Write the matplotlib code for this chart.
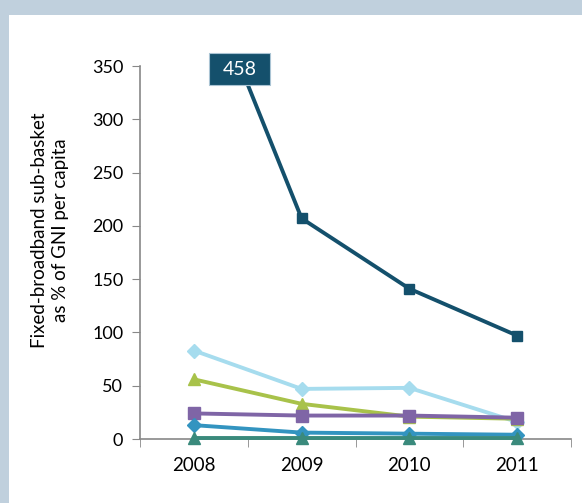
import matplotlib
matplotlib.use("Agg")
import matplotlib.pyplot as plt
from matplotlib.patches import Rectangle

years = ["2008", "2009", "2010", "2011"]
dark_series = [458, 207, 141, 97]
light_blue = [83, 47, 48, 16]
yellow_green = [56, 33, 21, 19]
purple = [24, 22, 22, 20]
blue = [13, 6, 5, 4]
teal = [1, 1, 1, 1]
yticks = [0, 50, 100, 150, 200, 250, 300, 350]

plt.rcParams['font.family'] = ['Lato', 'DejaVu Sans']

fig = plt.figure(figsize=(5.82, 5.03), dpi=100)
fig.patch.set_facecolor("white")
frame_col = "#c0d0dd"
fig.patches.append(Rectangle((0, 1 - 15/503), 1, 15/503, transform=fig.transFigure,
                             facecolor=frame_col, edgecolor="none", zorder=0))
fig.patches.append(Rectangle((0, 0), 9/582, 1, transform=fig.transFigure,
                             facecolor=frame_col, edgecolor="none", zorder=0))

ax = fig.add_axes([140/582, 1 - 439/503, (571 - 140)/582, (439 - 66)/503])
x = list(range(len(years)))

lw = 2.8
ax.plot(x, light_blue, color="#a6dcee", lw=lw, marker="D", ms=7, zorder=3)
ax.plot(x, yellow_green, color="#a8c24a", lw=lw, marker="^", ms=8, zorder=3)
ax.plot(x, purple, color="#7f65a6", lw=lw, marker="s", ms=8, zorder=4)
ax.plot(x, blue, color="#3394c0", lw=lw, marker="D", ms=7, zorder=4, clip_on=False)
ax.plot(x, teal, color="#3a8a7c", lw=lw, marker="^", ms=8, zorder=5, clip_on=False)
ax.plot(x, dark_series, color="#14506c", lw=lw, marker="s", ms=7, zorder=6)

ax.set_xlim(-0.5, 3.5)
ax.set_ylim(0, 350)
ax.set_yticks(yticks)
ax.set_yticklabels([str(v) for v in yticks], fontsize=13)
ax.set_xticks(x)
ax.set_xticklabels(years, fontsize=13.5)
ax.set_xticks([-0.5, 0.5, 1.5, 2.5, 3.5], minor=True)
ax.tick_params(axis="x", which="major", length=0, pad=13)
ax.tick_params(axis="x", which="minor", length=6, direction="out", color="#888888")
ax.tick_params(axis="y", length=6, direction="out", color="#888888", pad=6)

for s in ["top", "right"]:
    ax.spines[s].set_visible(False)
for s in ["left", "bottom"]:
    ax.spines[s].set_color("#888888")
    ax.spines[s].set_linewidth(1.2)
    ax.spines[s].set_zorder(2)

fig.text(50/582, 1 - 230/503, "Fixed-broadband sub-basket\nas % of GNI per capita",
         rotation=90, ha="center", va="center", fontsize=13.5, linespacing=1.3)

# label box for clipped value
bx, by, bw, bh = 209/582, 1 - 85/503, 61/582, 32/503
fig.patches.append(Rectangle((bx, by), bw, bh, transform=fig.transFigure,
                             facecolor="#14506c", edgecolor="#aac4d4", lw=0.8, zorder=10))
fig.text(bx + bw/2, by + bh/2, str(dark_series[0]), color="white", fontsize=14,
         ha="center", va="center", zorder=11)

fig.savefig("out.png", dpi=100)
